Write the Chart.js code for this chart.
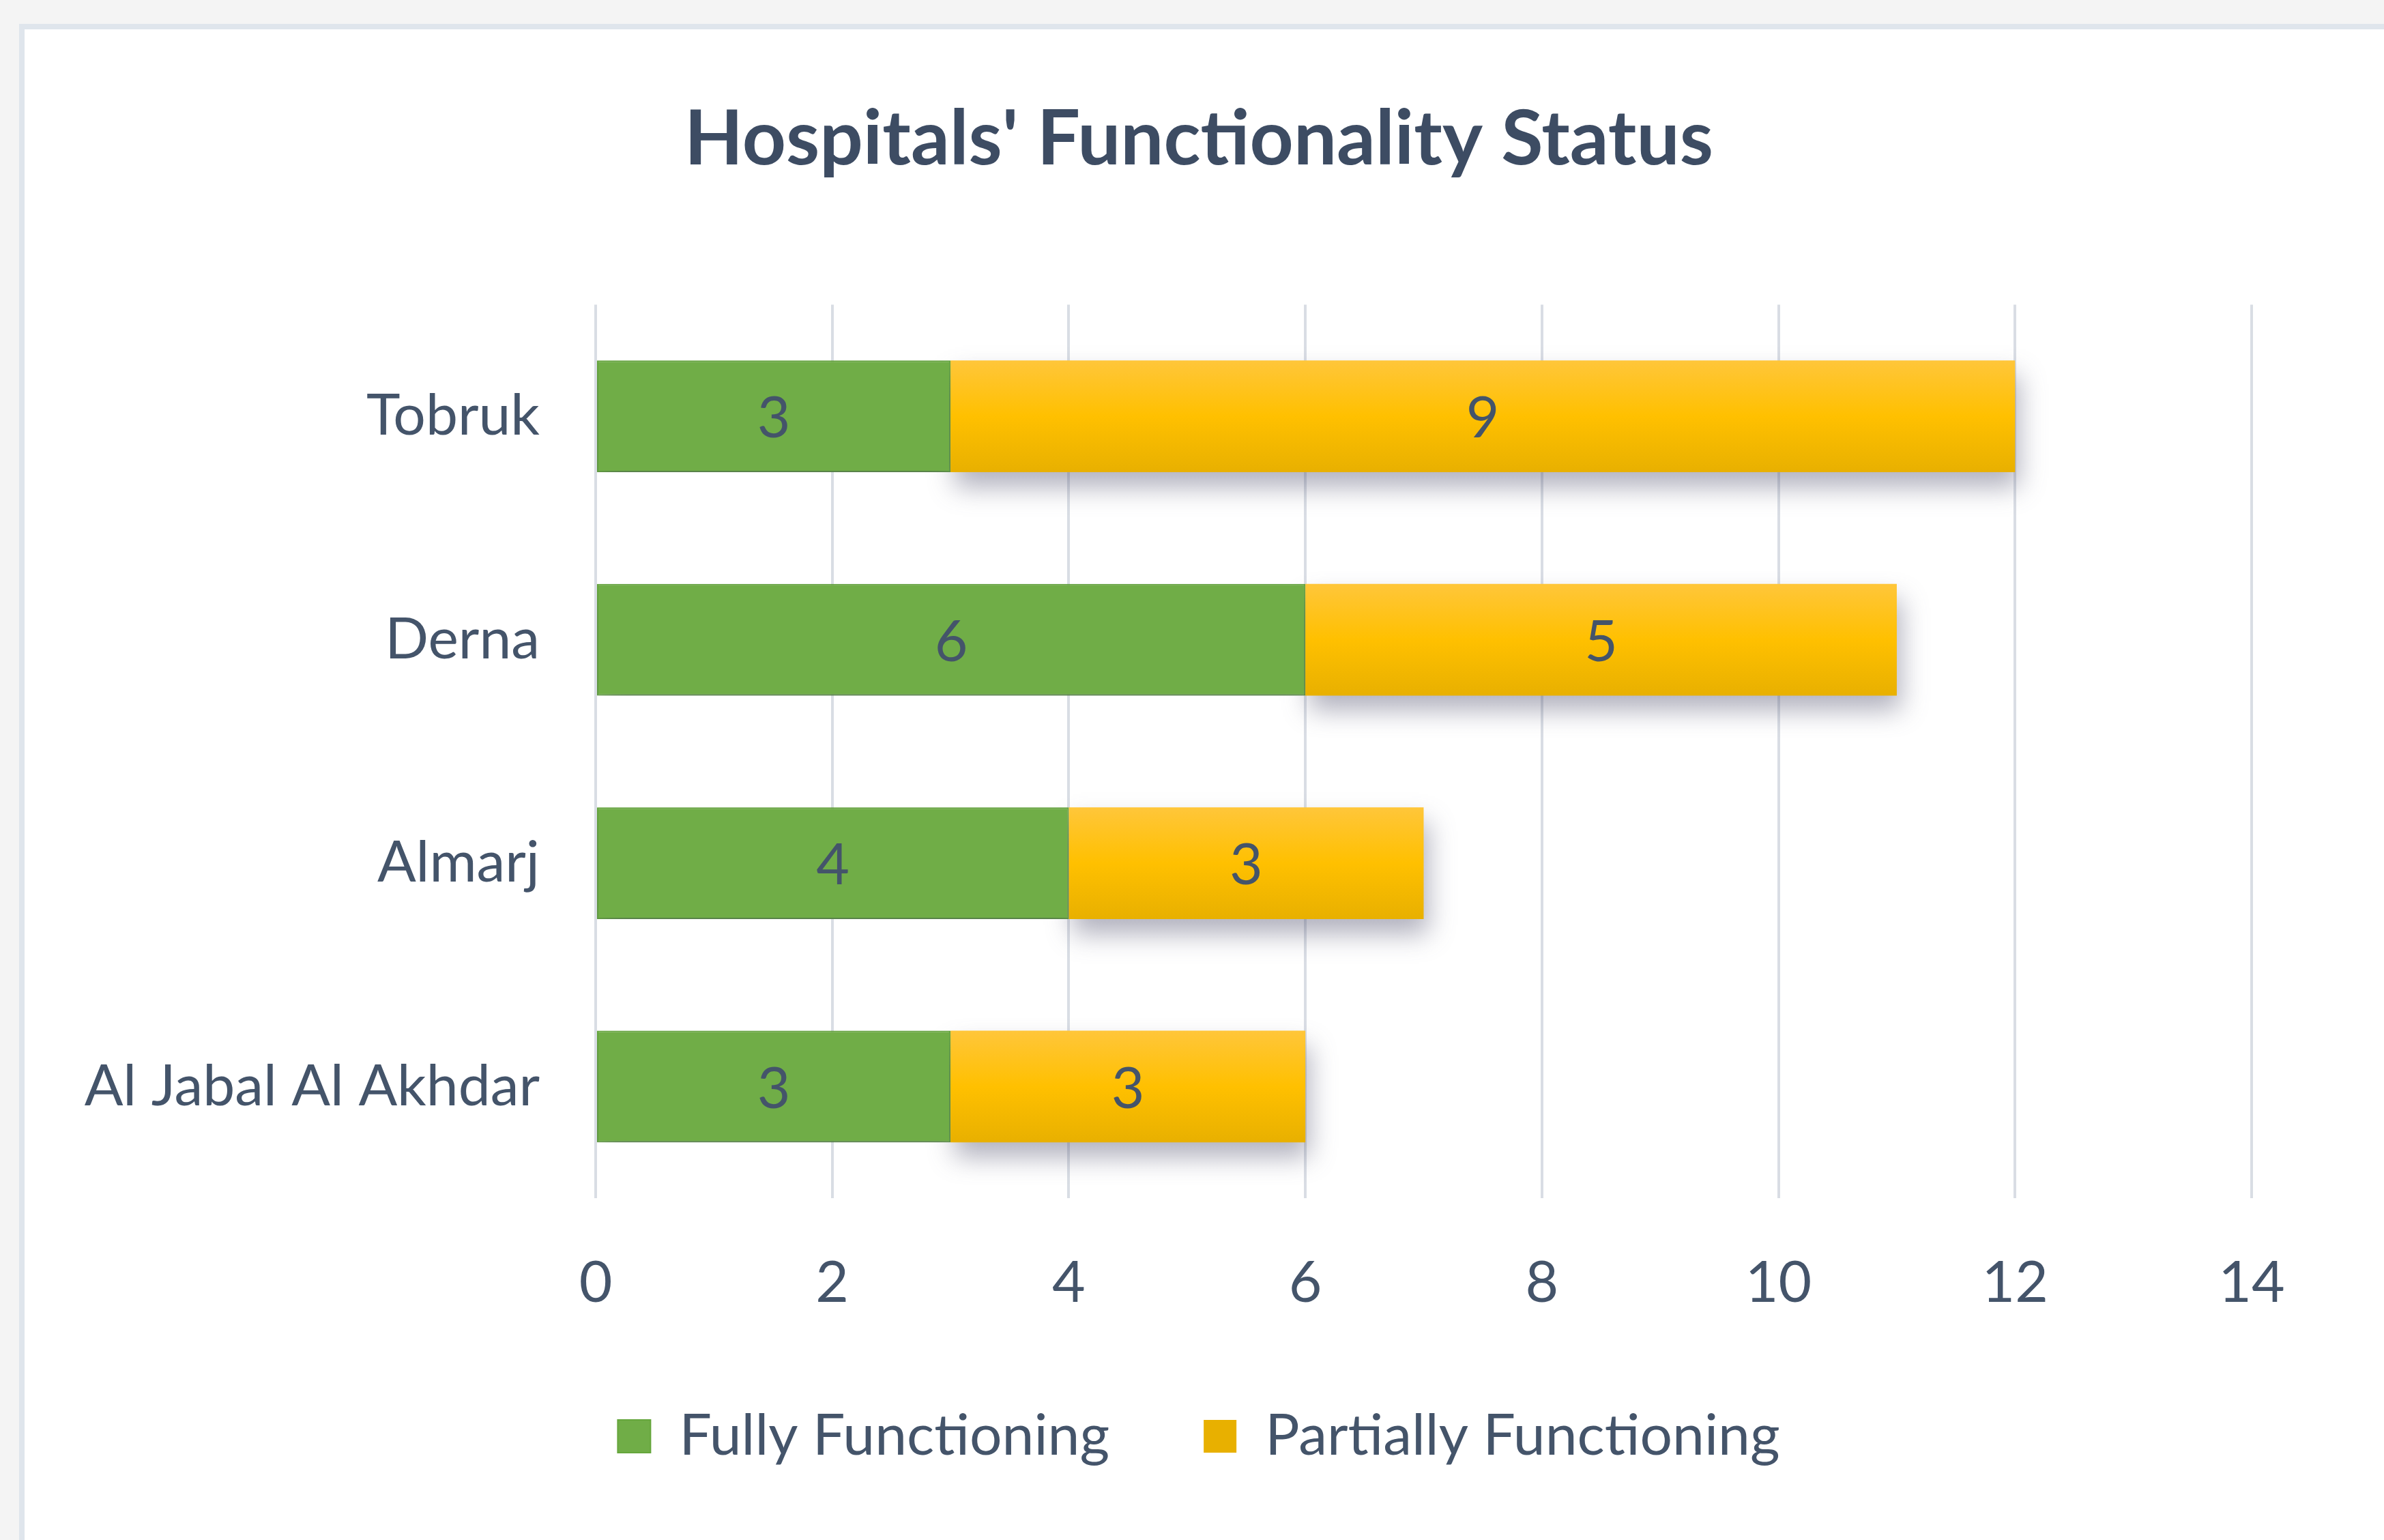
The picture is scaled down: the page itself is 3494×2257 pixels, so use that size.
<!DOCTYPE html>
<html>
<head>
<meta charset="utf-8">
<script src="https://cdn.jsdelivr.net/npm/chart.js@4"></script>
<style>
  html, body { margin: 0; padding: 0; background: #f4f4f4; overflow: hidden; }
  #card {
    position: absolute; left: 28px; top: 35px; width: 3466px; height: 2222px;
    background: #fff; border-left: 8px solid #dfe5ec; border-top: 8px solid #dfe5ec;
    box-sizing: border-box;
  }
  #wrap { position: absolute; left: 0; top: 0; width: 3494px; height: 2257px; }
</style>
</head>
<body>
<div id="card"></div>
<div id="wrap"><canvas id="hospChart"></canvas></div>
<script>
/* Data */
const districts = ['Tobruk', 'Derna', 'Almarj', 'Al Jabal Al Akhdar'];
const fully_functioning = [3, 6, 4, 3];
const partially_functioning = [9, 5, 3, 3];
const x_ticks = [0, 2, 4, 6, 8, 10, 12, 14];

const text_color = '#44546a';
const font_family = 'Lato, "Open Sans", sans-serif';

// yellow bars have a soft vertical gradient, one per bar
function yellowFill(context) {
    const chart = context.chart;
    const y = chart.scales.y;
    if (context.dataIndex === undefined || !y) return '#ffc000';
    const yc = y.getPixelForValue(context.dataIndex);
    const half = (y.height / districts.length) * 0.25;
    if (!isFinite(yc) || !isFinite(half) || half <= 0) return '#ffc000';
    const g = chart.ctx.createLinearGradient(0, yc - half, 0, yc + half);
    g.addColorStop(0, '#ffc63a');
    g.addColorStop(0.5, '#ffc000');
    g.addColorStop(1, '#e8b000');
    return g;
}

// drop shadow under the bars + value labels inside them
const barDecor = {
    id: 'barDecor',
    beforeDatasetsDraw(chart) {
        const ctx = chart.ctx;
        ctx.save();
        ctx.shadowColor = 'rgba(70, 70, 100, 0.42)';
        ctx.shadowBlur = 36;
        ctx.shadowOffsetX = 6;
        ctx.shadowOffsetY = 22;
    },
    afterDatasetsDraw(chart) {
        const ctx = chart.ctx;
        ctx.restore();
        ctx.save();
        ctx.font = '84px ' + font_family;
        ctx.fillStyle = text_color;
        ctx.textAlign = 'center';
        ctx.textBaseline = 'middle';
        chart.data.datasets.forEach((ds, i) => {
            chart.getDatasetMeta(i).data.forEach((bar, j) => {
                ctx.fillText(String(ds.data[j]), (bar.x + bar.base) / 2, bar.y + 4);
            });
        });
        ctx.restore();
    }
};

const my_chart = new Chart('hospChart', {
    type: 'bar',
    data: {
        labels: districts,
        datasets: [
            {
                label: 'Fully Functioning',
                data: fully_functioning,
                backgroundColor: '#70ad47',
                borderColor: '#65a63c',
                borderWidth: 2,
                borderSkipped: false,
            },
            {
                label: 'Partially Functioning',
                data: partially_functioning,
                backgroundColor: yellowFill,
                borderWidth: 0,
            },
        ]
    },
    options: {
        indexAxis: 'y',
        responsive: true,
        maintainAspectRatio: false,
        animation: false,
        devicePixelRatio: 1,
        barPercentage: 0.5,
        categoryPercentage: 1.0,
        layout: {
            padding: { top: 40, left: 50, right: 30, bottom: 100 }
        },
        scales: {
            x: {
                stacked: true,
                min: 0,
                max: 14,
                afterBuildTicks: (scale) => { scale.ticks = x_ticks.map(v => ({ value: v })); },
                afterFit: (scale) => { scale.height -= 80; },
                grid: { color: '#d9dde4', lineWidth: 4, drawTicks: false },
                border: { display: false },
                ticks: {
                    padding: 74,
                    color: text_color,
                    font: { family: font_family, size: 84 }
                }
            },
            y: {
                stacked: true,
                afterFit: (scale) => { scale.width = 823; },
                grid: { display: false, drawTicks: false },
                border: { display: false },
                ticks: {
                    padding: 82,
                    color: text_color,
                    font: { family: font_family, size: 84 }
                }
            },
            // empty spacer on the right so the plot ends before the card edge
            spacer: {
                type: 'category',
                axis: 'y',
                position: 'right',
                display: true,
                afterFit: (scale) => { scale.width = 164; },
                grid: { display: false, drawTicks: false },
                border: { display: false },
                ticks: { display: false }
            }
        },
        plugins: {
            title: {
                display: true,
                text: "Hospitals' Functionality Status",
                color: '#3d4c63',
                font: { family: font_family, size: 112, weight: 'bold' },
                padding: { top: 98, bottom: 174 }
            },
            legend: {
                position: 'bottom',
                labels: {
                    color: text_color,
                    font: { family: font_family, size: 84 },
                    boxWidth: 48,
                    boxHeight: 48,
                    padding: 138
                }
            },
            tooltip: { enabled: false }
        }
    },
    plugins: [barDecor]
});
</script>
</body>
</html>
